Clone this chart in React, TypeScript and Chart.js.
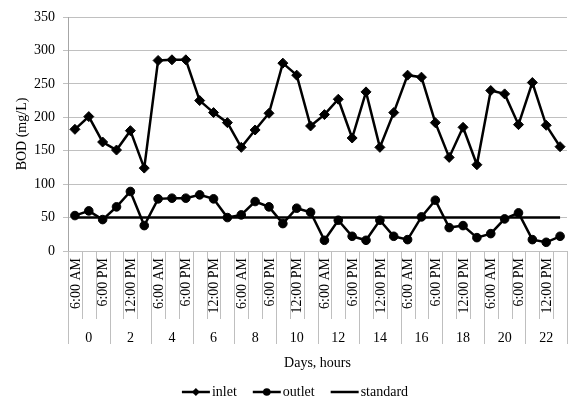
import React, { useEffect, useRef } from 'react';
import { Chart, registerables } from 'chart.js';

Chart.register(...registerables);

const dayLabels = ['0', '2', '4', '6', '8', '10', '12', '14', '16', '18', '20', '22'];
const timeLabels = ['6:00 AM', '12:00 PM', '6:00 PM'];
const inlet = [182, 201, 163, 151, 180, 124, 285, 286, 286, 225, 207, 192, 155, 181, 206, 281, 263, 187,
  204, 227, 169, 238, 155, 207, 263, 260, 192, 140, 185, 129, 240, 235, 189, 252, 188, 156];
const outlet = [53, 60, 47, 66, 89, 38, 78, 79, 79, 84, 78, 50, 54, 74, 66, 41, 64, 58,
  16, 46, 22, 16, 46, 22, 17, 51, 76, 35, 38, 20, 26, 48, 57, 17, 13, 22];
const standardValue = 50;
const seriesNames = ['inlet', 'outlet', 'standard'];
const xTitle = 'Days, hours';
const yTitle = 'BOD (mg/L)';

const categories = dayLabels.flatMap((d) => timeLabels.map((t) => `${d} ${t}`));
const standard = categories.map(() => standardValue);

const FONT = '"Liberation Serif", "Times New Roman", serif';
const FS = 14;

function diamond(ctx: CanvasRenderingContext2D, x: number, y: number, r: number) {
  ctx.beginPath();
  ctx.moveTo(x - r, y);
  ctx.lineTo(x, y - r);
  ctx.lineTo(x + r, y);
  ctx.lineTo(x, y + r);
  ctx.closePath();
  ctx.fill();
}

const axisPlugin = {
  id: 'multiAxis',
  afterDraw(chart: any) {
    const { ctx, chartArea: ca, scales } = chart;
    const xs = scales.x;
    const n = categories.length;
    const slot = (xs.getPixelForValue(n - 1) - xs.getPixelForValue(0)) / (n - 1);
    const edge = (i: number) => (i === 0 ? ca.left : i === n ? ca.right : xs.getPixelForValue(i) - slot / 2);
    ctx.save();
    ctx.strokeStyle = '#bfbfbf';
    ctx.lineWidth = 1;
    for (let i = 0; i <= n; i++) {
      const x = Math.min(Math.round(edge(i)) + 0.5, chart.width - 0.5);
      const bottom = i % timeLabels.length === 0 ? ca.bottom + 93 : ca.bottom + 68;
      ctx.beginPath();
      ctx.moveTo(x, ca.bottom);
      ctx.lineTo(x, bottom);
      ctx.stroke();
    }
    ctx.fillStyle = '#000';
    ctx.font = `${FS}px ${FONT}`;
    // inner labels, every other one
    for (let i = 0; i < n; i += 2) {
      const xc = xs.getPixelForValue(i) + 1;
      ctx.save();
      ctx.translate(xc, ca.bottom + 7);
      ctx.rotate(-Math.PI / 2);
      ctx.textAlign = 'right';
      ctx.textBaseline = 'middle';
      ctx.fillText(timeLabels[i % timeLabels.length], 0, 0);
      ctx.restore();
    }
    // group labels
    ctx.textAlign = 'center';
    ctx.textBaseline = 'middle';
    dayLabels.forEach((d, g) => {
      const x0 = edge(g * timeLabels.length);
      const x1 = edge((g + 1) * timeLabels.length);
      ctx.fillText(d, (x0 + x1) / 2, ca.bottom + 87);
    });
    // x title
    ctx.fillText(xTitle, (ca.left + ca.right) / 2, ca.bottom + 112);
    // y title
    ctx.save();
    ctx.translate(22, (ca.top + ca.bottom) / 2);
    ctx.rotate(-Math.PI / 2);
    ctx.fillText(yTitle, 0, 0);
    ctx.restore();

    // legend
    const ly = ca.bottom + 141;
    const lineLen = 28;
    const widths = seriesNames.map((s) => ctx.measureText(s).width);
    const gap = 16;
    const total = widths.reduce((a, w) => a + lineLen + 2 + w, 0) + gap * (seriesNames.length - 1);
    let x = 295 - total / 2;
    ctx.strokeStyle = '#000';
    ctx.lineWidth = 2.5;
    ctx.textAlign = 'left';
    seriesNames.forEach((s, k) => {
      ctx.beginPath();
      ctx.moveTo(x, ly);
      ctx.lineTo(x + lineLen, ly);
      ctx.stroke();
      const mx = x + lineLen / 2;
      if (k === 0) diamond(ctx, mx, ly, 4);
      if (k === 1) {
        ctx.beginPath();
        ctx.arc(mx, ly, 3.8, 0, Math.PI * 2);
        ctx.fill();
      }
      ctx.fillText(s, x + lineLen + 2, ly);
      x += lineLen + 2 + widths[k] + gap;
    });
    ctx.restore();
  },
};

export default function App() {
  const ref = useRef<HTMLCanvasElement>(null);
  useEffect(() => {
    document.body.style.margin = '0';
    const chart = new Chart(ref.current!, {
      type: 'line',
      data: {
        labels: categories,
        datasets: [
          {
            label: seriesNames[0],
            data: inlet,
            borderColor: '#000',
            backgroundColor: '#000',
            borderWidth: 2.5,
            pointStyle: 'rectRot',
            pointRadius: 5,
            pointBorderWidth: 1,
            tension: 0,
          },
          {
            label: seriesNames[1],
            data: outlet,
            borderColor: '#000',
            backgroundColor: '#000',
            borderWidth: 2.5,
            pointStyle: 'circle',
            pointRadius: 4.3,
            pointBorderWidth: 1,
            tension: 0,
          },
          {
            label: seriesNames[2],
            data: standard,
            borderColor: '#000',
            backgroundColor: '#000',
            borderWidth: 2.5,
            pointRadius: 0,
            tension: 0,
          },
        ],
      },
      options: {
        responsive: false,
        animation: false,
        layout: { padding: { top: 17, bottom: 151, left: 0, right: 0 } },
        plugins: { legend: { display: false }, tooltip: { enabled: false } },
        scales: {
          x: { display: false, offset: true },
          y: {
            min: 0,
            max: 350,
            ticks: { stepSize: 50, color: '#000', font: { family: FONT, size: FS }, padding: 8 },
            grid: { color: '#c0c0c0', tickLength: 5 },
            border: { color: '#a6a6a6' },
            afterFit: (s: any) => {
              s.width = 68;
            },
          },
        },
      },
      plugins: [axisPlugin],
    });
    return () => chart.destroy();
  }, []);
  return <canvas ref={ref} width={573} height={402} style={{ display: 'block' }} />;
}
